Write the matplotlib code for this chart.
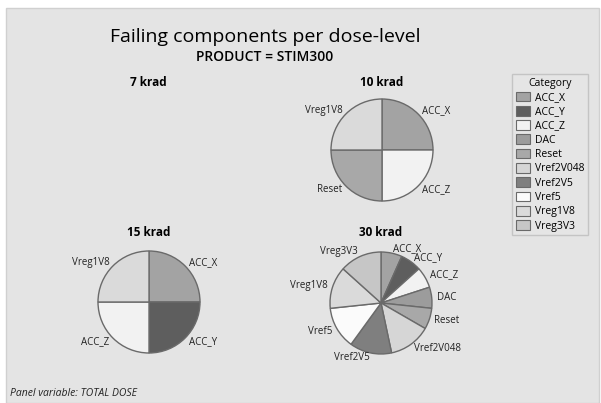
import matplotlib.pyplot as plt
from matplotlib.patches import Patch, Rectangle

plt.rcParams['font.family'] = ['Open Sans', 'DejaVu Sans']

# category colours (grayscale, Minitab style)
categories = ['ACC_X', 'ACC_Y', 'ACC_Z', 'DAC', 'Reset', 'Vref2V048',
              'Vref2V5', 'Vref5', 'Vreg1V8', 'Vreg3V3']
colors = ['#a3a3a3', '#5e5e5e', '#f2f2f2', '#9c9c9c', '#a8a8a8', '#d6d6d6',
          '#7f7f7f', '#fbfbfb', '#dadada', '#c6c6c6']

# failing components per panel
panels = ['7 krad', '10 krad', '15 krad', '30 krad']
labels_7 = []
counts_7 = []
labels_10 = ['ACC_X', 'ACC_Z', 'Reset', 'Vreg1V8']
counts_10 = [1, 1, 1, 1]
labels_15 = ['ACC_X', 'ACC_Y', 'ACC_Z', 'Vreg1V8']
counts_15 = [1, 1, 1, 1]
labels_30 = ['ACC_X', 'ACC_Y', 'ACC_Z', 'DAC', 'Reset', 'Vref2V048',
             'Vref2V5', 'Vref5', 'Vreg1V8', 'Vreg3V3']
counts_30 = [1, 1, 1, 1, 1, 2, 2, 2, 2, 2]

W, H = 601, 403
fig = plt.figure(figsize=(W / 100, H / 100), dpi=100)
fig.patch.set_facecolor('white')

# gray background panel
bg = Rectangle((6 / W, 0), (W - 8) / W, (H - 8) / H, transform=fig.transFigure,
               facecolor='#e4e4e4', edgecolor='#d0d0d0', lw=1, zorder=-5)
fig.patches.append(bg)

fig.text(265 / W, 1 - 37 / H, 'Failing components per dose-level',
         ha='center', va='center', fontsize=14)
fig.text(265 / W, 1 - 57 / H, 'PRODUCT = STIM300', ha='center', va='center',
         fontsize=10, fontweight='semibold')

cmap = dict(zip(categories, colors))
R = 51  # pie radius in px
data = [(labels_7, counts_7, (148, 150)), (labels_10, counts_10, (382, 150)),
        (labels_15, counts_15, (149, 302)), (labels_30, counts_30, (381, 303))]
title_y = [82, 82, 233, 233]

for name, (labs, cnts, (cx, cy)), ty in zip(panels, data, title_y):
    size = 2.6 * R
    ax = fig.add_axes([(cx - size / 2) / W, 1 - (cy + size / 2) / H,
                       size / W, size / H])
    ax.axis('off')
    if cnts:
        ax.pie(cnts, labels=labs, colors=[cmap[l] for l in labs],
               startangle=90, counterclock=False, radius=1.0,
               labeldistance=1.1,
               wedgeprops=dict(edgecolor='#6a6a6a', linewidth=1),
               textprops=dict(fontsize=7, color='#222222'))
    ax.set_xlim(-1.3, 1.3)
    ax.set_ylim(-1.3, 1.3)
    fig.text(cx / W, 1 - ty / H, name, ha='center', va='center', fontsize=8.5,
             fontweight='bold')

handles = [Patch(facecolor=c, edgecolor='#6a6a6a', lw=0.8) for c in colors]
leg = fig.legend(handles, categories, title='Category', loc='upper left',
                 bbox_to_anchor=(512 / W, 1 - 74 / H), fontsize=7.5,
                 title_fontsize=7.5, handlelength=1.35, handleheight=1.05,
                 handletextpad=0.5, labelspacing=0.28, borderpad=0.35,
                 borderaxespad=0, fancybox=False, frameon=True)
leg.get_frame().set_facecolor('#e6e6e6')
leg.get_frame().set_edgecolor('#bdbdbd')
leg.get_frame().set_linewidth(1.0)

fig.text(10 / W, 1 - 393 / H, 'Panel variable: TOTAL DOSE', ha='left',
         va='center', fontsize=7.5, style='italic', color='#222222')

fig.savefig('out.png', dpi=100)
